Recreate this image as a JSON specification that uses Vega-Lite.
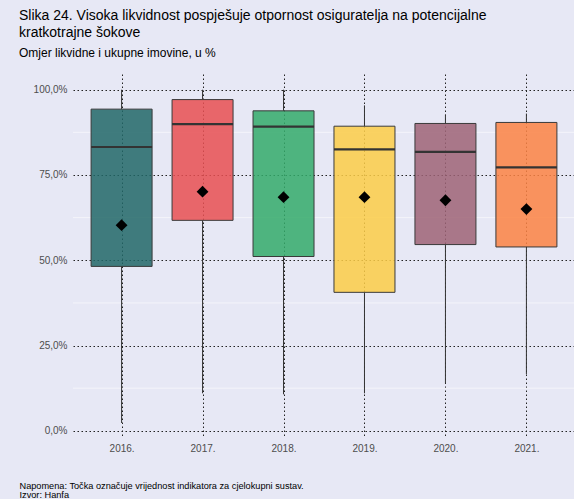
{
  "$schema": "https://vega.github.io/schema/vega-lite/v6.json",
  "autosize": "none",
  "width": 502,
  "height": 364,
  "padding": {"left": 73, "top": 74, "right": 0, "bottom": 61},
  "background": "#E7E8F5",
  "config": {
    "view": {"fill": "#E7E8F5", "stroke": null},
    "font": "Liberation Sans"
  },
  "title": {
    "text": ["Slika 24. Visoka likvidnost pospješuje otpornost osiguratelja na potencijalne", "kratkotrajne šokove"],
    "subtitle": "Omjer likvidne i ukupne imovine, u %",
    "anchor": "start",
    "frame": "group",
    "dx": -54,
    "dy": -3,
    "fontSize": 14,
    "fontWeight": "normal",
    "color": "#000000",
    "lineHeight": 17,
    "subtitleFontSize": 12,
    "subtitleColor": "#000000",
    "subtitlePadding": 8,
    "offset": 12,
    "font": "Liberation Sans",
    "subtitleFont": "Liberation Sans"
  },
  "datasets": {
    "boxes": [
      {"year": "2016.", "lo": 2.3, "q1": 48.2, "med": 83.2, "q3": 94.3, "hi": 100, "total": 60.3},
      {"year": "2017.", "lo": 11.0, "q1": 61.7, "med": 89.9, "q3": 97.1, "hi": 100, "total": 70.1},
      {"year": "2018.", "lo": 10.7, "q1": 51.1, "med": 89.2, "q3": 93.8, "hi": 100, "total": 68.5},
      {"year": "2019.", "lo": 11.0, "q1": 40.6, "med": 82.5, "q3": 89.3, "hi": 95.4, "total": 68.5},
      {"year": "2020.", "lo": 13.9, "q1": 54.6, "med": 81.8, "q3": 90.1, "hi": 92.7, "total": 67.6},
      {"year": "2021.", "lo": 16.6, "q1": 53.9, "med": 77.2, "q3": 90.4, "hi": 93.0, "total": 65.0}
    ],
    "minor": [{"v": 12.5}, {"v": 37.5}, {"v": 62.5}, {"v": 87.5}]
  },
  "data": {"name": "boxes"},
  "encoding": {
    "x": {
      "field": "year",
      "type": "ordinal",
      "scale": {"type": "point", "padding": 0.6},
      "axis": {
        "title": ["Napomena: Točka označuje vrijednost indikatora za cjelokupni sustav.", "Izvor: Hanfa"],
        "titleX": -54,
        "titleY": 50,
        "titleAlign": "left",
        "titleBaseline": "alphabetic",
        "titleFontSize": 9.2,
        "titleFontWeight": "normal",
        "titleColor": "#000000",
        "titleLineHeight": 9.5,
        "labelAngle": 0,
        "labelFontSize": 10,
        "labelColor": "#4D4D4D",
        "labelPadding": 5,
        "ticks": false,
        "domain": false,
        "grid": true,
        "gridColor": "#222222",
        "gridDash": [1.5, 2.5],
        "gridWidth": 1
      }
    },
    "y": {
      "type": "quantitative",
      "scale": {"domain": [-2.1, 104.6], "nice": false, "zero": false}
    }
  },
  "layer": [
    {
      "data": {"name": "minor"},
      "mark": {"type": "rule", "color": "#F4F4FA", "strokeWidth": 1},
      "encoding": {
        "x": null,
        "y": {
          "field": "v",
          "type": "quantitative",
          "axis": {
            "title": null,
            "values": [0, 25, 50, 75, 100],
            "labelExpr": "replace(format(datum.value, '.1f'), '.', ',') + '%'",
            "labelFontSize": 10,
            "labelColor": "#4D4D4D",
            "labelPadding": 6,
            "ticks": false,
            "domain": false,
            "grid": true,
            "gridColor": "#222222",
            "gridDash": [1.5, 2.5],
            "gridWidth": 1
          }
        }
      }
    },
    {
      "mark": {"type": "rule", "color": "#333333", "strokeWidth": 1},
      "encoding": {"y": {"field": "lo"}, "y2": {"field": "q1"}}
    },
    {
      "mark": {"type": "rule", "color": "#333333", "strokeWidth": 1},
      "encoding": {"y": {"field": "q3"}, "y2": {"field": "hi"}}
    },
    {
      "mark": {"type": "bar", "size": 61, "fillOpacity": 0.85, "stroke": "#3A3A3A", "strokeWidth": 1},
      "encoding": {
        "y": {"field": "q1"},
        "y2": {"field": "q3"},
        "color": {
          "field": "year",
          "type": "nominal",
          "legend": null,
          "scale": {"range": ["#216767", "#E84F51", "#32AA6A", "#FCCC46", "#9D6376", "#FC8243"]}
        }
      }
    },
    {
      "mark": {"type": "tick", "size": 61, "thickness": 2.2, "color": "#333333", "opacity": 1},
      "encoding": {"y": {"field": "med"}}
    },
    {
      "mark": {"type": "point", "shape": "diamond", "size": 140, "filled": true, "color": "#000000", "opacity": 1},
      "encoding": {"y": {"field": "total"}}
    }
  ]
}
